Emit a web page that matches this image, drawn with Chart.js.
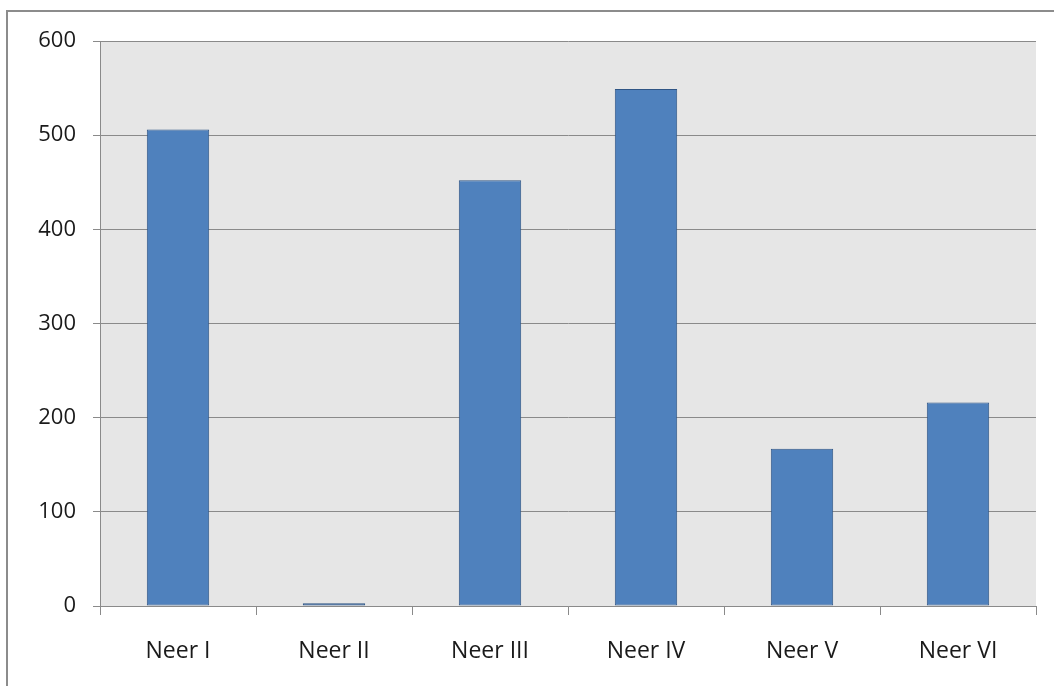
<!DOCTYPE html>
<html>
<head>
<meta charset="utf-8">
<script src="https://cdn.jsdelivr.net/npm/chart.js@4.4.0/dist/chart.umd.min.js"></script>
<style>
  html, body { margin: 0; padding: 0; background: #ffffff; }
  #wrap { position: relative; width: 1054px; height: 686px; overflow: hidden; }
  #frame {
    position: absolute; left: 6px; top: 10px; width: 1100px; height: 800px;
    border-left: 2px solid #8c8c8c; border-top: 2px solid #8c8c8c;
    box-sizing: border-box;
  }
  canvas { position: absolute; left: 0; top: 0; }
</style>
</head>
<body>
<div id="wrap">
  <div id="frame"></div>
  <canvas id="c" width="1054" height="686"></canvas>
</div>
<script>
// Categories and values
const categories = ['Neer I', 'Neer II', 'Neer III', 'Neer IV', 'Neer V', 'Neer VI'];
const counts = [506, 3, 452, 549, 167, 216];
const yTicks = [0, 100, 200, 300, 400, 500, 600];

const gridGray = '#8a8a8a';

// Grey plot background behind the bars
const plotBackground = {
  id: 'plotBackground',
  beforeDraw(chart) {
    const { ctx, chartArea: a } = chart;
    ctx.save();
    ctx.fillStyle = '#e6e6e6';
    ctx.fillRect(a.left, a.top, a.right - a.left, a.bottom - a.top);
    ctx.restore();
  }
};

new Chart(document.getElementById('c'), {
  type: 'bar',
  data: {
    labels: categories,
    datasets: [{
      data: counts,
      backgroundColor: '#4f81bd',
      borderColor: '#2f5585',
      borderWidth: 1,
      borderSkipped: false,
      categoryPercentage: 1.0,
      barPercentage: 0.4
    }]
  },
  options: {
    responsive: false,
    animation: false,
    layout: { padding: { left: 0, top: 41, right: 18, bottom: 0 } },
    plugins: {
      legend: { display: false },
      tooltip: { enabled: false }
    },
    scales: {
      x: {
        offset: true,
        grid: {
          offset: true,
          drawOnChartArea: false,
          color: gridGray,
          tickLength: 9,
          lineWidth: 1
        },
        border: { color: gridGray, width: 1 },
        ticks: {
          color: '#1a1a1a',
          padding: 23,
          maxRotation: 0,
          font: { family: '"Liberation Sans Narrow", "Open Sans", sans-serif', size: 23 }
        },
        afterFit(scale) { scale.height = 80; }
      },
      y: {
        min: 0,
        max: 600,
        afterBuildTicks(scale) { scale.ticks = yTicks.map(v => ({ value: v })); },
        grid: {
          color: gridGray,
          tickLength: 7,
          lineWidth: 1
        },
        border: { color: gridGray, width: 1 },
        ticks: {
          color: '#1a1a1a',
          padding: 17,
          font: { family: '"Open Sans", sans-serif', size: 22 }
        },
        afterFit(scale) { scale.width = 100; }
      }
    }
  },
  plugins: [plotBackground]
});
</script>
</body>
</html>
